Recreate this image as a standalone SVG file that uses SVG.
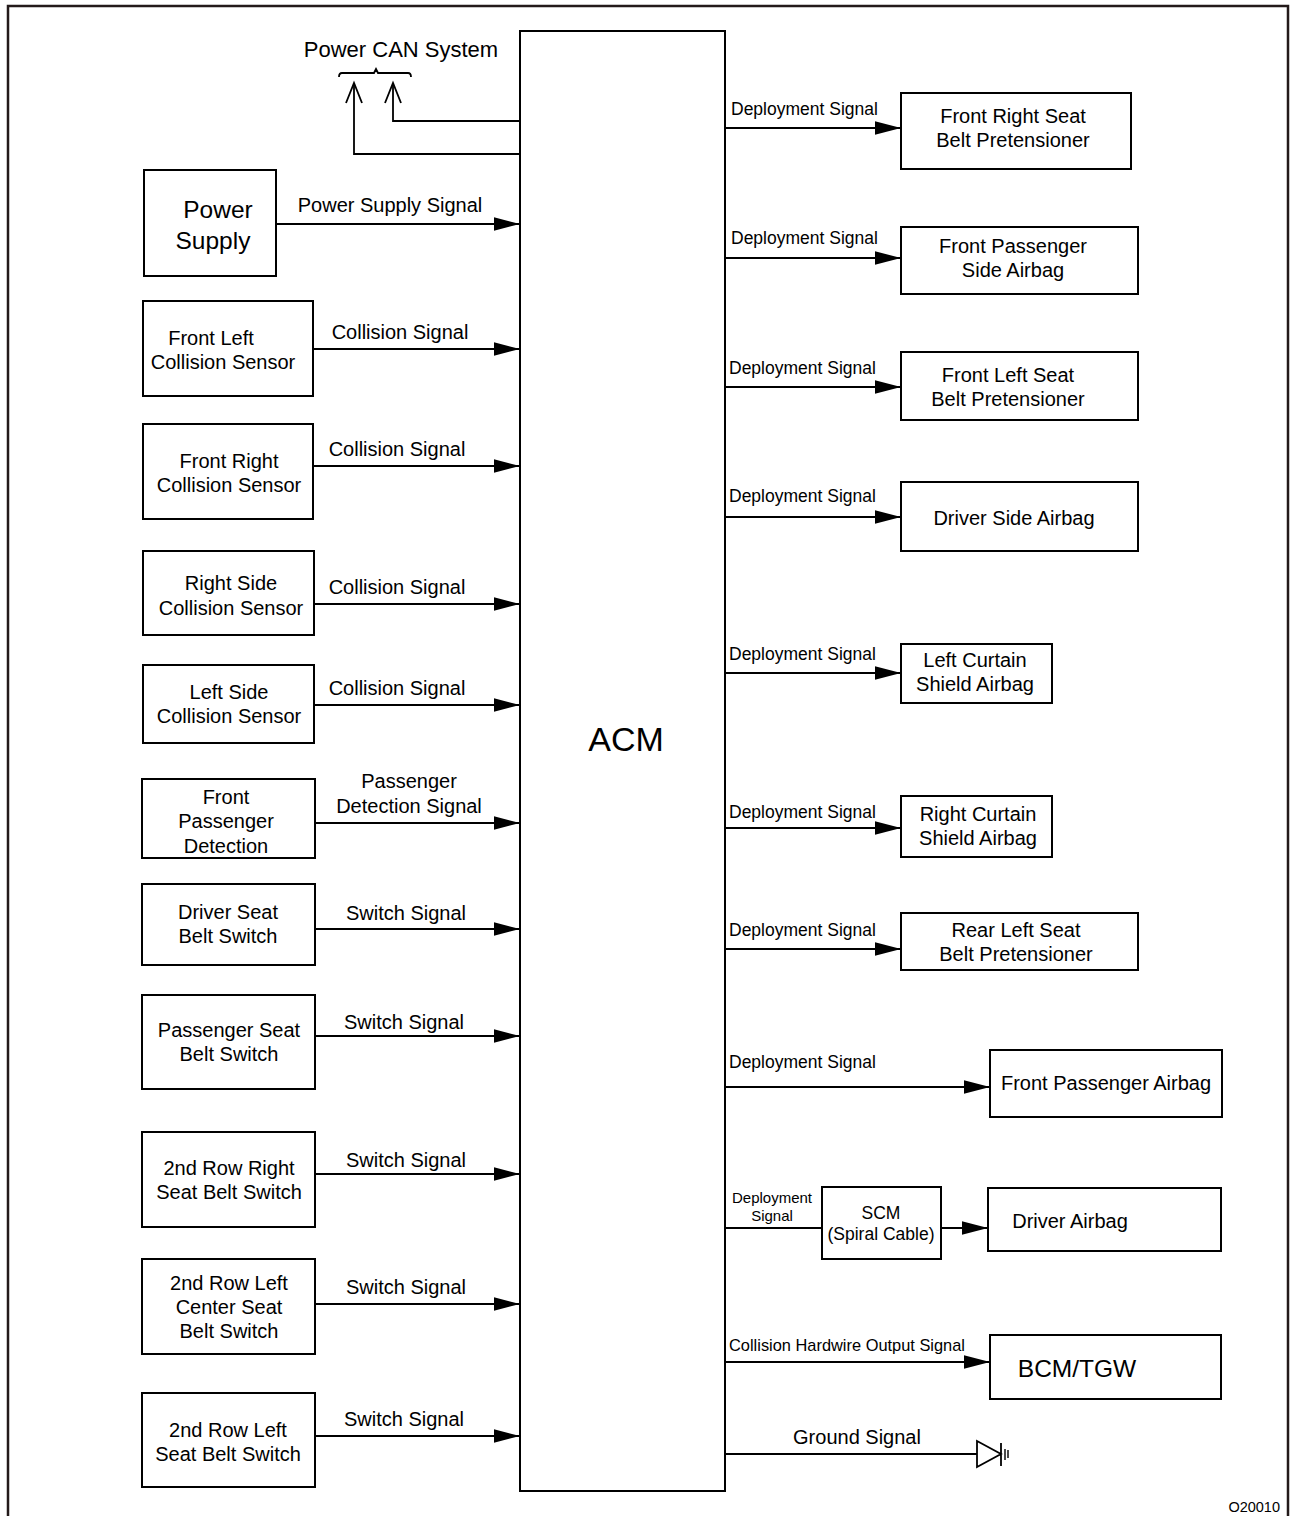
<svg xmlns="http://www.w3.org/2000/svg" width="1296" height="1516" viewBox="0 0 1296 1516">
  <style>
    .box { fill: #fff; stroke: #000; stroke-width: 2; }
    .wire { fill: none; stroke: #000; stroke-width: 1.8; }
    text { font-family: "Liberation Sans", Arial, sans-serif; fill: #000; }
    .t20 { font-size: 20px; text-anchor: middle; }
    .lbl { font-size: 20px; text-anchor: middle; }
    .dep { font-size: 17.5px; }
  </style>
  <defs>
    <marker id="arrow" markerUnits="userSpaceOnUse" markerWidth="28" markerHeight="16" refX="26" refY="7.5" orient="auto">
      <path d="M0,0.8 L26,7.5 L0,14.2 z" fill="#000"/>
    </marker>
  </defs>

  <rect width="1296" height="1516" fill="#fff"/>
  <!-- sheet frame -->
  <path d="M8,1516 V6 H1288 V1516" fill="none" stroke="#231a1a" stroke-width="2.5"/>
  <text x="1280" y="1512" font-size="14.5" text-anchor="end">O20010</text>

  <!-- central module -->
  <g id="acm">
    <rect class="box" x="520" y="31" width="205" height="1460"/>
    <text x="626" y="751" font-size="34" text-anchor="middle">ACM</text>
  </g>

  <!-- CAN bus -->
  <g id="power-can">
    <text x="401" y="57" font-size="22" text-anchor="middle">Power CAN System</text>
    <path class="wire" d="M339,77 Q339,73 342,73 H374 L376,69 L378,73 H408 Q411,73 411,77"/>
  </g>

  <!-- input devices -->
  <g id="power-supply">
    <rect class="box" x="144" y="170" width="132" height="106"/>
    <text x="218" y="218" font-size="24.5" text-anchor="middle">Power</text>
    <text x="213" y="249" font-size="24.5" text-anchor="middle">Supply</text>
  </g>
  <g id="front-left-sensor">
    <rect class="box" x="143" y="301" width="170" height="95"/>
    <text class="t20" x="211" y="345">Front Left</text>
    <text class="t20" x="223" y="369">Collision Sensor</text>
  </g>
  <g id="front-right-sensor">
    <rect class="box" x="143" y="424" width="170" height="95"/>
    <text class="t20" x="229" y="468">Front Right</text>
    <text class="t20" x="229" y="492">Collision Sensor</text>
  </g>
  <g id="right-side-sensor">
    <rect class="box" x="143" y="551" width="171" height="84"/>
    <text class="t20" x="231" y="590">Right Side</text>
    <text class="t20" x="231" y="615">Collision Sensor</text>
  </g>
  <g id="left-side-sensor">
    <rect class="box" x="143" y="665" width="171" height="78"/>
    <text class="t20" x="229" y="699">Left Side</text>
    <text class="t20" x="229" y="723">Collision Sensor</text>
  </g>
  <g id="passenger-detection">
    <rect class="box" x="142" y="779" width="173" height="79"/>
    <text class="t20" x="226" y="804">Front</text>
    <text class="t20" x="226" y="828">Passenger</text>
    <text class="t20" x="226" y="853">Detection</text>
  </g>
  <g id="driver-belt-switch">
    <rect class="box" x="142" y="884" width="173" height="81"/>
    <text class="t20" x="228" y="919">Driver Seat</text>
    <text class="t20" x="228" y="943">Belt Switch</text>
  </g>
  <g id="passenger-belt-switch">
    <rect class="box" x="142" y="995" width="173" height="94"/>
    <text class="t20" x="229" y="1037">Passenger Seat</text>
    <text class="t20" x="229" y="1061">Belt Switch</text>
  </g>
  <g id="row2-right-switch">
    <rect class="box" x="142" y="1132" width="173" height="95"/>
    <text class="t20" x="229" y="1175">2nd Row Right</text>
    <text class="t20" x="229" y="1199">Seat Belt Switch</text>
  </g>
  <g id="row2-left-center-switch">
    <rect class="box" x="142" y="1259" width="173" height="95"/>
    <text class="t20" x="229" y="1290">2nd Row Left</text>
    <text class="t20" x="229" y="1314">Center Seat</text>
    <text class="t20" x="229" y="1338">Belt Switch</text>
  </g>
  <g id="row2-left-switch">
    <rect class="box" x="142" y="1393" width="173" height="94"/>
    <text class="t20" x="228" y="1437">2nd Row Left</text>
    <text class="t20" x="228" y="1461">Seat Belt Switch</text>
  </g>

  <!-- output devices -->
  <g id="fr-pretensioner">
    <rect class="box" x="901" y="93" width="230" height="76"/>
    <text class="t20" x="1013" y="123">Front Right Seat</text>
    <text class="t20" x="1013" y="147">Belt Pretensioner</text>
  </g>
  <g id="fp-side-airbag">
    <rect class="box" x="901" y="227" width="237" height="67"/>
    <text class="t20" x="1013" y="253">Front Passenger</text>
    <text class="t20" x="1013" y="277">Side Airbag</text>
  </g>
  <g id="fl-pretensioner">
    <rect class="box" x="901" y="352" width="237" height="68"/>
    <text class="t20" x="1008" y="382">Front Left Seat</text>
    <text class="t20" x="1008" y="406">Belt Pretensioner</text>
  </g>
  <g id="driver-side-airbag">
    <rect class="box" x="901" y="482" width="237" height="69"/>
    <text class="t20" x="1014" y="525">Driver Side Airbag</text>
  </g>
  <g id="left-curtain-airbag">
    <rect class="box" x="901" y="644" width="151" height="59"/>
    <text class="t20" x="975" y="667">Left Curtain</text>
    <text class="t20" x="975" y="691">Shield Airbag</text>
  </g>
  <g id="right-curtain-airbag">
    <rect class="box" x="901" y="796" width="151" height="61"/>
    <text class="t20" x="978" y="821">Right Curtain</text>
    <text class="t20" x="978" y="845">Shield Airbag</text>
  </g>
  <g id="rl-pretensioner">
    <rect class="box" x="901" y="913" width="237" height="57"/>
    <text class="t20" x="1016" y="937">Rear Left Seat</text>
    <text class="t20" x="1016" y="961">Belt Pretensioner</text>
  </g>
  <g id="fp-airbag">
    <rect class="box" x="990" y="1050" width="232" height="67"/>
    <text class="t20" x="1106" y="1090">Front Passenger Airbag</text>
  </g>
  <g id="scm">
    <rect class="box" x="822" y="1187" width="119" height="72"/>
    <text x="881" y="1219" font-size="17.5" text-anchor="middle">SCM</text>
    <text x="881" y="1240" font-size="17.5" text-anchor="middle">(Spiral Cable)</text>
  </g>
  <g id="driver-airbag">
    <rect class="box" x="988" y="1188" width="233" height="63"/>
    <text class="t20" x="1070" y="1228">Driver Airbag</text>
  </g>
  <g id="bcm-tgw">
    <rect class="box" x="990" y="1335" width="231" height="64"/>
    <text x="1077" y="1377" font-size="24.5" text-anchor="middle">BCM/TGW</text>
  </g>
  <g id="ground">
    <path d="M977,1441 L1001,1454 L977,1467 z M1001,1443 V1466" fill="none" stroke="#000" stroke-width="1.8"/>
    <path d="M1005,1449 V1460 M1008,1450 V1458" fill="none" stroke="#000" stroke-width="1.4"/>
  </g>

  <!-- connectors -->
  <g id="connectors">
    <!-- CAN links with open heads -->
    <path class="wire" d="M520,121 H393 V84"/>
    <path class="wire" d="M520,154 H354 V84"/>
    <path class="wire" d="M385,103 L393,83 L401,103"/>
    <path class="wire" d="M346,103 L354,83 L362,103"/>

    <!-- inputs -->
    <path class="wire" d="M276,224 H520" marker-end="url(#arrow)"/>
    <path class="wire" d="M313,349 H520" marker-end="url(#arrow)"/>
    <path class="wire" d="M313,466 H520" marker-end="url(#arrow)"/>
    <path class="wire" d="M314,604 H520" marker-end="url(#arrow)"/>
    <path class="wire" d="M314,705 H520" marker-end="url(#arrow)"/>
    <path class="wire" d="M315,823 H520" marker-end="url(#arrow)"/>
    <path class="wire" d="M315,929 H520" marker-end="url(#arrow)"/>
    <path class="wire" d="M315,1036 H520" marker-end="url(#arrow)"/>
    <path class="wire" d="M315,1174 H520" marker-end="url(#arrow)"/>
    <path class="wire" d="M315,1304 H520" marker-end="url(#arrow)"/>
    <path class="wire" d="M315,1436 H520" marker-end="url(#arrow)"/>

    <text class="lbl" x="390" y="212">Power Supply Signal</text>
    <text class="lbl" x="400" y="339">Collision Signal</text>
    <text class="lbl" x="397" y="456">Collision Signal</text>
    <text class="lbl" x="397" y="594">Collision Signal</text>
    <text class="lbl" x="397" y="695">Collision Signal</text>
    <text class="lbl" x="409" y="788">Passenger</text>
    <text class="lbl" x="409" y="813">Detection Signal</text>
    <text class="lbl" x="406" y="920">Switch Signal</text>
    <text class="lbl" x="404" y="1029">Switch Signal</text>
    <text class="lbl" x="406" y="1167">Switch Signal</text>
    <text class="lbl" x="406" y="1294">Switch Signal</text>
    <text class="lbl" x="404" y="1426">Switch Signal</text>

    <!-- outputs -->
    <path class="wire" d="M725,128 H901" marker-end="url(#arrow)"/>
    <path class="wire" d="M725,258 H901" marker-end="url(#arrow)"/>
    <path class="wire" d="M725,387 H901" marker-end="url(#arrow)"/>
    <path class="wire" d="M725,517 H901" marker-end="url(#arrow)"/>
    <path class="wire" d="M725,673 H901" marker-end="url(#arrow)"/>
    <path class="wire" d="M725,828 H901" marker-end="url(#arrow)"/>
    <path class="wire" d="M725,949 H901" marker-end="url(#arrow)"/>
    <path class="wire" d="M725,1087 H990" marker-end="url(#arrow)"/>
    <path class="wire" d="M725,1228 H822"/>
    <path class="wire" d="M941,1228 H988" marker-end="url(#arrow)"/>
    <path class="wire" d="M725,1362 H990" marker-end="url(#arrow)"/>
    <path class="wire" d="M725,1454 H977"/>

    <text class="dep" x="731" y="115">Deployment Signal</text>
    <text class="dep" x="731" y="244">Deployment Signal</text>
    <text class="dep" x="729" y="374">Deployment Signal</text>
    <text class="dep" x="729" y="502">Deployment Signal</text>
    <text class="dep" x="729" y="660">Deployment Signal</text>
    <text class="dep" x="729" y="818">Deployment Signal</text>
    <text class="dep" x="729" y="936">Deployment Signal</text>
    <text class="dep" x="729" y="1068">Deployment Signal</text>
    <text x="772" y="1203" font-size="15" text-anchor="middle">Deployment</text>
    <text x="772" y="1221" font-size="15" text-anchor="middle">Signal</text>
    <text x="729" y="1351" font-size="16.4">Collision Hardwire Output Signal</text>
    <text class="lbl" x="857" y="1444">Ground Signal</text>
  </g>
</svg>
